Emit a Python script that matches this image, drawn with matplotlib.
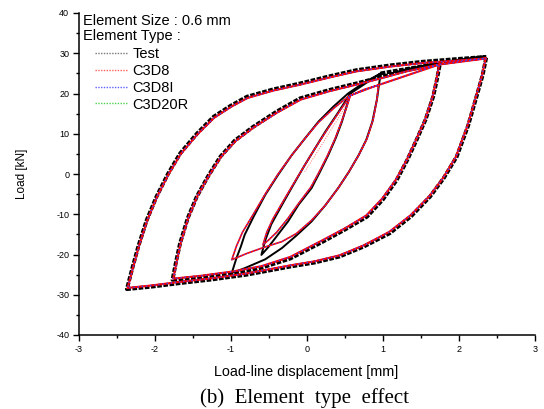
import matplotlib
matplotlib.use('Agg')
import matplotlib.pyplot as plt
from matplotlib.ticker import MultipleLocator

plt.rcParams['font.family'] = ['Liberation Sans', 'DejaVu Sans']
plt.rcParams['axes.unicode_minus'] = False

# ---- measured hysteresis (Test), (displacement mm, load kN) ----
test_l1_down = [(0.57, 20.0), (0.52, 16.8), (0.46, 13.0), (0.38, 9.0), (0.28, 4.7),
                (0.17, 0.5), (0.06, -3.5), (-0.11, -7.6), (-0.25, -11.8), (-0.40, -15.5),
                (-0.51, -18.2), (-0.60, -20.1)]
test_l1_up = [(-0.60, -20.1), (-0.55, -16.5), (-0.47, -12.5), (-0.33, -7.7), (-0.18, -2.7),
              (-0.03, 2.2), (0.11, 6.5), (0.24, 10.5), (0.40, 15.0), (0.57, 20.0)]

test_l2_down = [(0.97, 25.0), (0.95, 22.5), (0.92, 18.5), (0.86, 13.0), (0.78, 8.5),
                (0.68, 4.7), (0.55, 0.5), (0.41, -3.5), (0.24, -7.8), (0.06, -11.8),
                (-0.14, -15.3), (-0.33, -18.4), (-0.55, -21.2), (-0.82, -23.4), (-0.99, -24.6)]
test_l2_up = [(-0.99, -24.6), (-0.93, -21.0), (-0.87, -18.0), (-0.82, -15.1), (-0.70, -10.5),
              (-0.55, -5.2), (-0.38, -0.2), (-0.20, 4.7), (-0.02, 9.0), (0.15, 13.0),
              (0.35, 16.8), (0.54, 20.0), (0.75, 22.7), (0.97, 25.0)]

test_l3_down = [(1.75, 27.5), (1.71, 23.5), (1.66, 19.2), (1.56, 13.5), (1.44, 8.4),
                (1.32, 3.5), (1.18, -1.5), (1.00, -6.3), (0.79, -10.6), (0.50, -13.8),
                (0.21, -16.8), (-0.22, -21.0), (-0.60, -23.3), (-0.97, -24.6),
                (-1.40, -25.6), (-1.77, -26.3)]
test_l3_up = [(-1.77, -26.3), (-1.72, -21.5), (-1.67, -17.2), (-1.57, -11.0), (-1.45, -5.6),
              (-1.30, -0.5), (-1.14, 4.3), (-0.95, 8.3), (-0.71, 11.7), (-0.40, 15.5),
              (-0.09, 18.8), (0.30, 20.9), (0.65, 22.5), (1.00, 24.2), (1.31, 25.8), (1.75, 27.5)]

test_l4_down = [(2.36, 29.1), (2.31, 24.5), (2.23, 19.2), (2.12, 12.0), (1.97, 4.3),
                (1.80, -1.0), (1.62, -5.6), (1.37, -10.5), (1.09, -14.7), (0.75, -18.0),
                (0.43, -20.5), (0.10, -22.0), (-0.22, -23.0), (-0.79, -25.0), (-1.25, -26.2),
                (-1.67, -27.1), (-2.05, -28.0), (-2.37, -28.6)]
test_l4_up = [(-2.37, -28.6), (-2.30, -23.5), (-2.22, -18.0), (-2.11, -11.5), (-1.98, -5.6),
              (-1.83, 0.0), (-1.67, 5.1), (-1.45, 10.0), (-1.23, 14.2), (-1.00, 17.0),
              (-0.79, 19.2), (-0.45, 21.0), (-0.09, 22.5), (0.30, 24.3), (0.65, 25.8),
              (1.10, 27.0), (1.53, 27.9), (2.00, 28.6), (2.36, 29.1)]

# ---- FE results (C3D8 / C3D8I / C3D20R practically coincide) ----
fe_init = [(-0.03, 0.6), (0.12, 5.0), (0.26, 9.3), (0.39, 13.2), (0.49, 16.3), (0.57, 18.9)]

fe_l1_down = [(0.57, 19.5), (0.52, 16.5), (0.45, 12.8), (0.37, 8.8), (0.27, 4.6),
              (0.16, 0.5), (0.05, -3.3), (-0.11, -7.3), (-0.25, -11.0), (-0.40, -14.5),
              (-0.50, -16.3), (-0.58, -17.6)]
fe_l1_up = [(-0.58, -17.6), (-0.53, -14.5), (-0.45, -11.2), (-0.33, -7.3), (-0.18, -2.5),
            (-0.03, 2.2), (0.11, 6.5), (0.24, 10.3), (0.40, 14.8), (0.57, 19.5)]

fe_l2_down = [(0.94, 22.1), (0.92, 18.5), (0.87, 13.5), (0.79, 8.8), (0.68, 4.7),
              (0.55, 0.5), (0.41, -3.5), (0.24, -7.8), (0.06, -11.5), (-0.14, -14.8),
              (-0.33, -16.8), (-0.58, -18.3), (-0.80, -19.8), (-0.99, -21.3)]
fe_l2_up = [(-0.99, -21.3), (-0.93, -18.0), (-0.85, -14.5), (-0.70, -9.8), (-0.55, -5.0),
            (-0.38, 0.0), (-0.20, 4.7), (-0.02, 9.0), (0.15, 12.8), (0.35, 16.3),
            (0.54, 19.2), (0.75, 21.0), (0.94, 22.1)]

fe_l3_down = [(1.74, 27.2), (1.70, 23.2), (1.65, 19.0), (1.55, 13.3), (1.43, 8.3),
              (1.31, 3.4), (1.17, -1.4), (0.99, -6.1), (0.78, -10.3), (0.50, -13.5),
              (0.21, -16.4), (-0.22, -20.6), (-0.60, -22.9), (-0.97, -24.2),
              (-1.40, -25.3), (-1.76, -26.0)]
fe_l3_up = [(-1.76, -26.0), (-1.71, -21.3), (-1.66, -17.0), (-1.56, -10.8), (-1.44, -5.4),
            (-1.29, -0.4), (-1.13, 4.3), (-0.94, 8.2), (-0.70, 11.6), (-0.39, 15.3),
            (-0.08, 18.5), (0.30, 20.6), (0.65, 22.2), (1.00, 23.9), (1.31, 25.5), (1.74, 27.2)]

fe_l4_down = [(2.35, 28.7), (2.30, 24.2), (2.22, 19.0), (2.11, 11.9), (1.96, 4.3),
              (1.79, -1.0), (1.61, -5.5), (1.36, -10.3), (1.08, -14.4), (0.75, -17.7),
              (0.43, -20.2), (0.10, -21.7), (-0.22, -22.7), (-0.79, -24.7), (-1.25, -25.9),
              (-1.67, -26.8), (-2.05, -27.7), (-2.36, -28.3)]
fe_l4_up = [(-2.36, -28.3), (-2.29, -23.3), (-2.21, -17.8), (-2.10, -11.4), (-1.97, -5.5),
            (-1.82, 0.0), (-1.66, 5.0), (-1.44, 9.9), (-1.22, 14.0), (-0.99, 16.8),
            (-0.78, 18.9), (-0.45, 20.7), (-0.09, 22.2), (0.30, 24.0), (0.65, 25.5),
            (1.10, 26.7), (1.53, 27.6), (2.00, 28.2), (2.35, 28.7)]

series_labels = ['Test', 'C3D8', 'C3D8I', 'C3D20R']


def xy(*parts):
    pts = []
    for p in parts:
        pts += p
    return [p[0] for p in pts], [p[1] for p in pts]


# small cycles (single pass) and large cycles (repeated, drawn heavier)
t_small = xy(test_l1_down, test_l1_up, test_l2_down, test_l2_up)
t_large = xy(test_l2_up[-1:], test_l3_down, test_l3_up, test_l4_down, test_l4_up)
f_init = xy(fe_init)
f_small = xy(fe_l1_down, fe_l1_up, fe_l2_down, fe_l2_up)
f_large = xy(fe_l2_up[-1:], fe_l3_down, fe_l3_up, fe_l4_down, fe_l4_up)

fig = plt.figure(figsize=(5.44, 4.09), dpi=100)
ax = fig.add_axes([79 / 544, 1 - 335 / 409, 456 / 544, 322 / 409])

# C3D20R
ax.plot(*f_small, color='#00c000', lw=0.6, ls=(0.5, (1, 2)), zorder=2)
g, = ax.plot(*f_large, color='#00c000', lw=0.8, ls=(0.5, (1, 2)), zorder=2)
# Test
ax.plot(*t_small, color='black', lw=1.4, zorder=3)
t, = ax.plot(*t_large, color='black', lw=2.8, ls=(0, (1.2, 0.4)), zorder=3)
# C3D8
ax.plot(*f_init, color='#ff7070', lw=0.7, ls=(0, (1, 1.5)), zorder=4)
ax.plot(*f_small, color='red', lw=1.2, zorder=4)
r, = ax.plot(*f_large, color='red', lw=1.5, zorder=4)
# C3D8I
ax.plot(*f_small, color='#4040ff', lw=0.8, ls=(1, (1, 2)), zorder=5)
b, = ax.plot(*f_large, color='#4040ff', lw=1.0, ls=(1, (1, 2)), zorder=5)

ax.set_xlim(-3, 3)
ax.set_ylim(-40, 40)
ax.xaxis.set_major_locator(MultipleLocator(1))
ax.xaxis.set_minor_locator(MultipleLocator(0.5))
ax.yaxis.set_major_locator(MultipleLocator(10))
ax.yaxis.set_minor_locator(MultipleLocator(5))
ax.tick_params(which='major', direction='out', length=4, width=1, labelsize=6.5, pad=3)
ax.tick_params(which='minor', direction='out', length=2.5, width=1)
for s in ['top', 'right']:
    ax.spines[s].set_visible(False)
for s in ['left', 'bottom']:
    ax.spines[s].set_linewidth(1.1)

# legend header and entries
ax.text(0.009, 0.976, 'Element Size : 0.6 mm', transform=ax.transAxes,
        fontsize=10.5, va='center', ha='left')
ax.text(0.009, 0.929, 'Element Type :', transform=ax.transAxes,
        fontsize=10.5, va='center', ha='left')
leg = ax.legend([t, r, b, g], series_labels, loc='upper left',
                bbox_to_anchor=(0.035, 0.895), frameon=False, fontsize=10.5,
                borderpad=0, borderaxespad=0, handlelength=2.2, handletextpad=0.35,
                labelspacing=0.2)
leg_colors = ['#777777', '#ff6060', '#6060ff', '#50d050']
for ln, c in zip(leg.get_lines(), leg_colors):
    ln.set_linewidth(1.0)
    ln.set_color(c)
    ln.set_linestyle((0, (1, 1)))

fig.text(306 / 544, 1 - 372 / 409, 'Load-line displacement [mm]', ha='center', va='center',
         fontsize=10.4)
fig.text(22 / 544, 1 - 174 / 409, 'Load [kN]', ha='center', va='center', rotation=90,
         fontsize=8.5)
fig.text(305 / 544, 1 - 398 / 409, '(b)  Element  type  effect', ha='center', va='center',
         fontsize=15, family='Liberation Serif')

fig.savefig('out.png', dpi=100)
